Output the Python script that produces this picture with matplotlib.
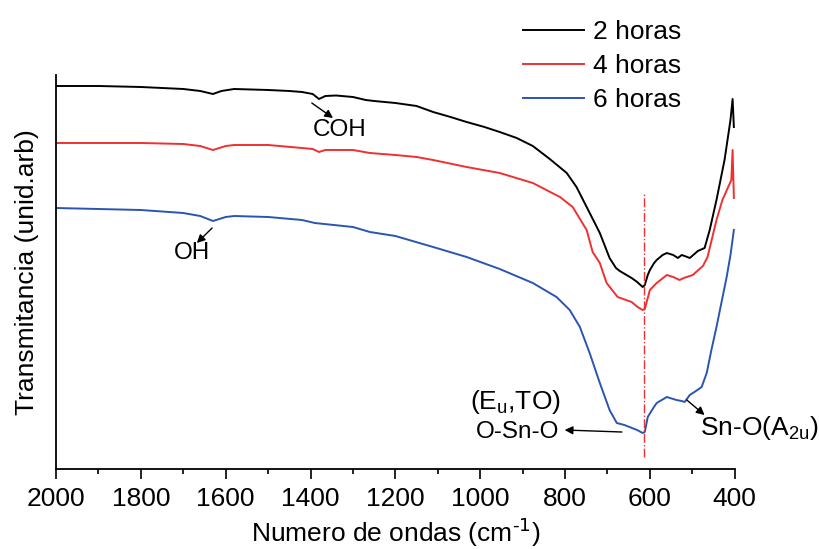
import numpy as np
import matplotlib
matplotlib.use('Agg')
import matplotlib.pyplot as plt
from matplotlib.ticker import MultipleLocator

plt.rcParams['font.family'] = ['Liberation Sans', 'DejaVu Sans']
plt.rcParams['mathtext.default'] = 'regular'

# --- Data (arbitrary transmittance units) ---
wn_2h = [2000, 1900, 1800, 1700, 1660, 1630, 1610, 1580, 1540, 1500, 1450, 1420,
         1395, 1380, 1365, 1340, 1300, 1270, 1250, 1200, 1150, 1111, 1070, 1032,
         990, 954, 914, 876, 836, 796, 773, 749, 718, 695, 680, 671, 643, 630,
         617, 612, 605, 600, 590, 584, 570, 560, 545, 534, 525, 518, 506, 495,
         487, 471, 459, 443, 424, 410, 405, 402]
t_2h = [383, 383, 382, 380, 378, 375, 378, 380, 379.5, 379, 378, 377,
        375, 370, 373, 373.5, 372, 369, 368, 366, 363, 357, 352, 347,
        342, 337, 331, 323, 310, 296, 282, 262, 236, 211, 201, 198, 191, 187,
        182, 184, 194, 199, 206, 209, 214, 216, 214, 211, 214, 213, 211, 215,
        218, 221, 239, 269, 309, 349, 370, 342]

wn_4h = [2000, 1900, 1800, 1700, 1660, 1630, 1600, 1580, 1500, 1420, 1395, 1380,
         1365, 1300, 1260, 1200, 1150, 1111, 1032, 954, 876, 812, 782, 749, 735,
         718, 702, 676, 643, 629, 617, 612, 600, 584, 560, 545, 530, 520, 513,
         499, 475, 464, 443, 429, 408, 405, 402]
t_4h = [326, 326, 326, 325, 323, 319, 323, 324, 324, 321, 320, 317,
        319, 319, 316, 314, 312, 309, 302, 296, 286, 272, 262, 239, 217,
        206, 186, 172, 167, 162, 159, 160, 179, 186, 194, 192, 189, 191, 192,
        194, 203, 212, 249, 269, 289, 319, 271]

wn_6h = [2000, 1900, 1800, 1700, 1660, 1630, 1600, 1580, 1500, 1420, 1390, 1300,
         1260, 1200, 1111, 1032, 954, 876, 820, 789, 765, 742, 718, 695, 678,
         660, 648, 630, 617, 612, 605, 595, 584, 560, 545, 537, 525, 518, 506,
         495, 478, 466, 455, 443, 419, 410, 402]
t_6h = [261, 260, 259, 256, 253, 248, 252, 253, 252, 249, 246, 242,
        237, 233, 222, 212, 200, 186, 172, 159, 142, 116, 86, 59, 46,
        44, 42, 39, 36, 37, 52, 59, 66, 72, 70, 69, 68, 67, 74,
        77, 82, 96, 119, 142, 192, 214, 239]

labels = ['2 horas', '4 horas', '6 horas']
colors = ['black', '#f03030', '#2a55b0']

peak_wn = 614  # dashed reference line

fig = plt.figure(figsize=(8.2, 5.49), dpi=100)
ax = fig.add_axes([0.0683, 0.1457, 0.8277, 0.7177])

for wn, t, lab, c in zip([wn_2h, wn_4h, wn_6h], [t_2h, t_4h, t_6h], labels, colors):
    ax.plot(wn, t, color=c, lw=1.4, label=lab)

ax.plot([peak_wn, peak_wn], [12, 277], color='#f03030', lw=1.0, ls='-.')

ax.set_xlim(2000, 400)
ax.set_ylim(0, 394)
ax.xaxis.set_major_locator(MultipleLocator(200))
ax.xaxis.set_minor_locator(MultipleLocator(100))
ax.tick_params(axis='x', which='major', direction='out', length=7, width=1.2,
               labelsize=19, pad=6)
ax.tick_params(axis='x', which='minor', direction='out', length=3.5, width=1.2)
ax.set_yticks([])
for s in ['top', 'right']:
    ax.spines[s].set_visible(False)
for s in ['left', 'bottom']:
    ax.spines[s].set_linewidth(1.3)

ax.set_xlabel(r'Numero de ondas (cm$^{\text{-1}}$)', fontsize=19, labelpad=4)
ax.set_ylabel('Transmitancia (unid.arb)', fontsize=19, labelpad=12)

# --- Annotations ---
arw = dict(arrowstyle='-|>', color='black', lw=1.0, mutation_scale=12,
           shrinkA=0, shrinkB=0)
ax.annotate('', xy=(1347, 351), xytext=(1397, 366), arrowprops=arw)
ax.text(1331, 339, 'COH', fontsize=17.5, ha='center', va='center')
ax.annotate('', xy=(1668, 226), xytext=(1632, 241), arrowprops=arw)
ax.text(1680, 216, 'OH', fontsize=17.5, ha='center', va='center')
ax.annotate('', xy=(801, 39), xytext=(666, 37), arrowprops=arw)
ax.text(918, 67, r'(E$_u$,TO)', fontsize=19, ha='center', va='center')
ax.text(911, 37, 'O-Sn-O', fontsize=17.5, ha='center', va='center')
ax.annotate('', xy=(471, 54), xytext=(513, 69), arrowprops=arw)
ax.text(483, 41, r'Sn-O(A$_{2u}$)', fontsize=19, ha='left', va='center')

leg = ax.legend(loc='upper left', bbox_to_anchor=(523 / 820, 1 - 20 / 549),
                bbox_transform=fig.transFigure, frameon=False, fontsize=19,
                handlelength=2.3, handletextpad=0.35, labelspacing=0.38,
                borderpad=0, borderaxespad=0)

fig.savefig('out.png', dpi=100)
